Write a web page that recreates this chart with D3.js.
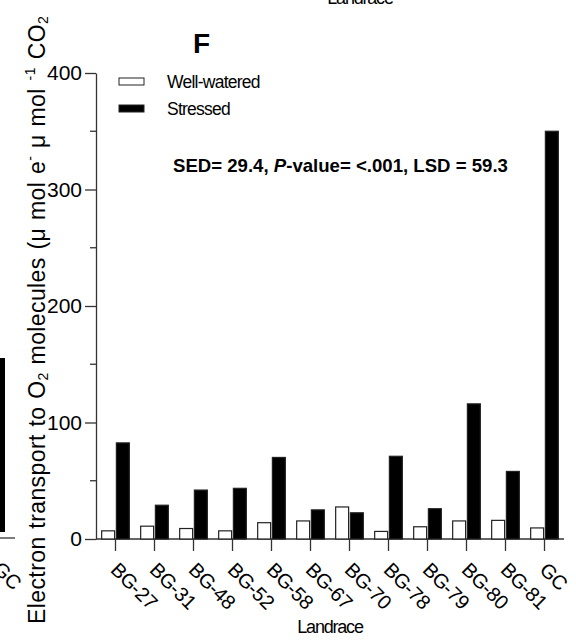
<!DOCTYPE html>
<html>
<head>
<meta charset="utf-8">
<script src="https://cdn.jsdelivr.net/npm/d3@7"></script>
<style>
  body { margin: 0; background: #fff; }
  svg { display: block; font-family: 'Liberation Sans', Arial, sans-serif; }
  .axis path, .axis line { stroke: #333; stroke-width: 1.3; }
  .axis text { fill: #000; }
</style>
</head>
<body>
<svg id="chart" width="576" height="640"></svg>
<script>
const landraces = ['BG-27', 'BG-31', 'BG-48', 'BG-52', 'BG-58', 'BG-67', 'BG-70', 'BG-78', 'BG-79', 'BG-80', 'BG-81', 'GC'];
const wellWatered = [7, 11, 9, 7, 14, 15.5, 27.5, 6.5, 10.5, 15.5, 16, 9.5];
const stressed = [82.5, 29, 42, 43.5, 70, 25, 22.5, 71, 26, 116, 58, 350];
const yTicks = [0, 100, 200, 300, 400];
const yMinorTicks = [50, 150, 250, 350];
const seriesNames = ['Well-watered', 'Stressed'];
const seriesFill = ['#fff', '#000'];

const svg = d3.select('#chart');

const x = d3.scaleBand()
  .domain(landraces)
  .range([96, 564])
  .paddingInner(0.2)
  .paddingOuter(0.1);

const xInner = d3.scaleBand()
  .domain([0, 1])
  .range([0, x.bandwidth()])
  .padding(0.12);

const y = d3.scaleLinear()
  .domain([0, 400])
  .range([539, 73]);

// fragments of the neighbouring panels that are cut by the frame
svg.append('text')
  .attr('x', 360)
  .attr('y', 4)
  .attr('text-anchor', 'middle')
  .attr('font-size', 18)
  .attr('letter-spacing', -1.2)
  .text('Landrace');
svg.append('rect')
  .attr('x', 0).attr('y', 358)
  .attr('width', 5).attr('height', 174)
  .attr('fill', '#000');
svg.append('line')
  .attr('x1', 0).attr('x2', 15)
  .attr('y1', 538).attr('y2', 538)
  .attr('stroke', '#333').attr('stroke-width', 1.3);
svg.append('text')
  .attr('transform', 'translate(-8,570) rotate(45)')
  .attr('font-size', 20)
  .text('GC');

// y axis
const yAxis = svg.append('g')
  .attr('class', 'axis')
  .attr('transform', 'translate(96,0)')
  .call(d3.axisLeft(y).tickValues(yTicks).tickSize(11).tickPadding(3).tickSizeOuter(0));
yAxis.selectAll('text').attr('font-size', 21);
yAxis.selectAll('.minor')
  .data(yMinorTicks)
  .enter()
    .append('line')
    .attr('x1', -6)
    .attr('x2', 0)
    .attr('y1', (d) => y(d))
    .attr('y2', (d) => y(d));

// x axis
const xAxis = svg.append('g')
  .attr('class', 'axis')
  .attr('transform', 'translate(0,539)')
  .call(d3.axisBottom(x).tickSize(12).tickSizeOuter(0));
xAxis.select('.domain').attr('d', 'M96,0H564');
xAxis.selectAll('text')
  .attr('font-size', 20)
  .attr('letter-spacing', -0.4)
  .attr('text-anchor', 'start')
  .attr('y', 0)
  .attr('dy', 0)
  .attr('transform', 'translate(-6,32) rotate(45)');

// bars
const groups = svg.append('g')
  .selectAll('g')
  .data(landraces.map((name, i) => ({ name, values: [wellWatered[i], stressed[i]] })))
  .enter()
    .append('g')
    .attr('transform', (d) => `translate(${x(d.name)},0)`);

groups.selectAll('rect')
  .data((d) => d.values)
  .enter()
    .append('rect')
    .attr('x', (d, i) => xInner(i))
    .attr('y', (d) => y(d))
    .attr('width', xInner.bandwidth())
    .attr('height', (d) => y(0) - y(d))
    .attr('fill', (d, i) => seriesFill[i])
    .attr('stroke', '#222')
    .attr('stroke-width', 1.2);

// legend
const legend = svg.append('g')
  .selectAll('g')
  .data(seriesNames)
  .enter()
    .append('g')
    .attr('transform', (d, i) => `translate(119,${78 + i * 27})`);
legend.append('rect')
  .attr('width', 25)
  .attr('height', 7)
  .attr('fill', (d, i) => seriesFill[i])
  .attr('stroke', '#222')
  .attr('stroke-width', 1);
legend.append('text')
  .attr('x', 48)
  .attr('y', 10)
  .attr('font-size', 17.5)
  .attr('letter-spacing', -0.75)
  .text((d) => d);

// panel letter
svg.append('text')
  .attr('x', 193)
  .attr('y', 53)
  .attr('font-size', 28)
  .attr('font-weight', 'bold')
  .text('F');

// statistics
const stats = svg.append('text')
  .attr('x', 173)
  .attr('y', 172)
  .attr('font-size', 18.6)
  .attr('font-weight', 'bold');
stats.append('tspan').text('SED= 29.4, ');
stats.append('tspan').attr('font-style', 'italic').text('P');
stats.append('tspan').text('-value= <.001, LSD = 59.3');

// axis titles
svg.append('text')
  .attr('x', 330)
  .attr('y', 633)
  .attr('text-anchor', 'middle')
  .attr('font-size', 18)
  .attr('letter-spacing', -1.2)
  .text('Landrace');

const yLabel = svg.append('text')
  .attr('transform', 'translate(45,624) rotate(-90)')
  .attr('font-size', 23)
  .attr('letter-spacing', 0.4)
  .attr('word-spacing', 1);
yLabel.append('tspan').text('Electron transport to O');
yLabel.append('tspan').attr('font-size', 14).attr('dy', 3).text('2');
yLabel.append('tspan').attr('dy', -3).text(' molecules (\u03bc mol e');
yLabel.append('tspan').attr('font-size', 14).attr('dy', -10).text('-');
yLabel.append('tspan').attr('dy', 10).text(' \u03bc mol ');
yLabel.append('tspan').attr('font-size', 14).attr('dy', -10).text('-1');
yLabel.append('tspan').attr('dy', 10).text(' CO');
yLabel.append('tspan').attr('font-size', 14).attr('dy', 3).text('2');
</script>
</body>
</html>
